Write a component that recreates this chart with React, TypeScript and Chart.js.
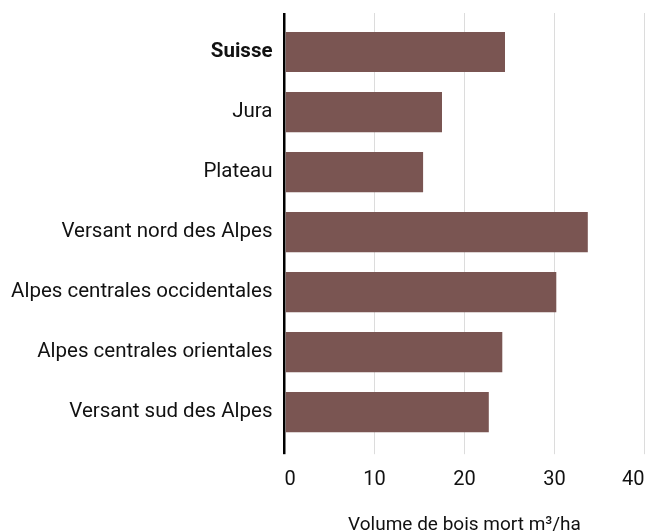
import React, { useEffect, useRef } from "react";
import { Chart, registerables } from "chart.js";

Chart.register(...registerables);

const categories: string[] = [
  "Suisse",
  "Jura",
  "Plateau",
  "Versant nord des Alpes",
  "Alpes centrales occidentales",
  "Alpes centrales orientales",
  "Versant sud des Alpes",
];
const deadwoodVolume: number[] = [24.5, 17.5, 15.4, 33.7, 30.2, 24.2, 22.7];
const xMin = 0;
const xMax = 40;
const xStep = 10;
const xTitle = "Volume de bois mort m³/ha";

const FONT = "Roboto, 'Noto Sans', sans-serif";
const TEXT = "#111111";
const GRID = "#dcdcdc";
const BAR = "#7a5552";

export default function App() {
  const ref = useRef<HTMLCanvasElement | null>(null);

  useEffect(() => {
    if (!ref.current) return;
    const gridColor = (ctx: any) => (ctx.tick && ctx.tick.value === 0 ? "#000000" : GRID);
    const gridWidth = (ctx: any) => (ctx.tick && ctx.tick.value === 0 ? 2.5 : 1);
    const chart = new Chart(ref.current, {
      type: "bar",
      data: {
        labels: categories,
        datasets: [
          {
            data: deadwoodVolume,
            backgroundColor: BAR,
            borderWidth: 0,
            barPercentage: 0.67,
            categoryPercentage: 1,
          },
        ],
      },
      options: {
        indexAxis: "y",
        animation: false,
        responsive: false,
        font: { family: FONT },
        layout: { padding: { top: 13, right: 2.5, bottom: 0, left: 0 } },
        plugins: {
          legend: { display: false },
          tooltip: { enabled: false },
        },
        scales: {
          x: {
            type: "linear",
            position: "bottom",
            min: xMin,
            max: xMax,
            ticks: {
              stepSize: xStep,
              color: TEXT,
              align: "inner",
              padding: 14,
              font: { family: FONT, size: 20 },
            },
            grid: {
              color: gridColor,
              lineWidth: gridWidth,
              drawTicks: true,
              tickLength: 12,
            },
            border: { display: false },
            title: {
              display: true,
              text: xTitle,
              color: TEXT,
              font: { family: FONT, size: 19 },
              padding: { top: 8, bottom: -6 },
            },
            afterFit: (scale: any) => {
              scale.paddingLeft = 0;
              scale.paddingRight = 0;
            },
          },
          x2: {
            type: "linear",
            axis: "x",
            position: "top",
            min: xMin,
            max: xMax,
            ticks: { stepSize: xStep, display: false },
            grid: {
              color: gridColor,
              lineWidth: gridWidth,
              drawOnChartArea: false,
              drawTicks: true,
              tickLength: 9,
            },
            border: { display: false },
          },
          y: {
            type: "category",
            grid: { display: false, drawTicks: false },
            border: { display: false },
            ticks: {
              color: TEXT,
              padding: 12,
              font: (ctx: any) => ({
                family: FONT,
                size: 20.5,
                weight: ctx.index === 0 ? "bold" : "normal",
              }),
            },
            afterFit: (scale: any) => {
              scale.width = 284.5;
              scale.paddingTop = 0;
              scale.paddingBottom = 0;
            },
          },
        },
      },
    });
    return () => chart.destroy();
  }, []);

  return (
    <div style={{ position: "fixed", left: 0, top: 0, width: 647, height: 531, background: "#fff" }}>
      <canvas ref={ref} width={647} height={531} />
    </div>
  );
}
